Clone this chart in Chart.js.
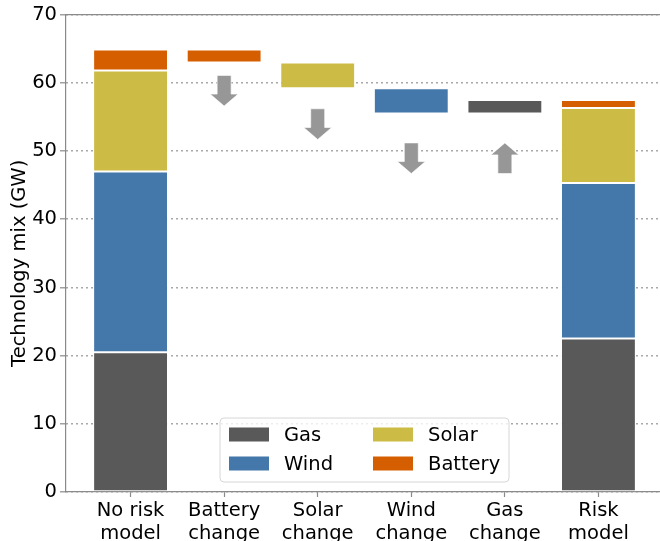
<!DOCTYPE html>
<html>
<head>
<meta charset="utf-8">
<script src="https://cdn.jsdelivr.net/npm/chart.js@4.4.0/dist/chart.umd.min.js"></script>
<style>
  html, body { margin: 0; padding: 0; background: #fff; overflow: hidden; }
  #wrap { width: 664px; height: 541px; }
</style>
</head>
<body>
<div id="wrap"><canvas id="mixChart"></canvas></div>
<script>
// values (GW)
const categories = [['No risk', 'model'], ['Battery', 'change'], ['Solar', 'change'], ['Wind', 'change'], ['Gas', 'change'], ['Risk', 'model']];
const technologies = ['Gas', 'Wind', 'Solar', 'Battery'];
const techColors = ['#595959', '#4477AA', '#CCBB44', '#D55E00'];
const noRiskMix = [20.5, 26.5, 14.8, 3.1];
const riskMix = [22.5, 22.8, 11.0, 1.2];
const changeTech = ['Battery', 'Solar', 'Wind', 'Gas'];
const changeValues = [-1.9, -3.8, -3.7, 2.0];
const arrowStart = [61.1, 56.2, 51.2, 46.7];
const arrowEnd = [56.6, 51.7, 46.7, 51.2];
const yTicks = [0, 10, 20, 30, 40, 50, 60, 70];

const textColor = '#000';
const spineColor = '#8a8a8a';
const font = { family: 'DejaVu Sans', size: 19.5 };

function stackRanges(mix, x) {
    let base = 0;
    return mix.map(v => {
        const r = { x: x, y: [base, base + v] };
        base += v;
        return r;
    });
}

const noRiskRanges = stackRanges(noRiskMix, 0);
const riskRanges = stackRanges(riskMix, categories.length - 1);
let level = noRiskMix.reduce((a, b) => a + b, 0);
const changeRanges = changeValues.map((v, i) => {
    const r = { x: i + 1, y: [Math.min(level, level + v), Math.max(level, level + v)] };
    level += v;
    return r;
});

const datasets = technologies.map((t, k) => {
    const data = [noRiskRanges[k]];
    changeTech.forEach((c, i) => { if (c === t) data.push(changeRanges[i]); });
    data.push(riskRanges[k]);
    return {
        label: t,
        data: data,
        backgroundColor: techColors[k],
        borderColor: 'rgba(255,255,255,0.9)',
        borderWidth: 1,
        borderSkipped: false,
        grouped: false,
        barPercentage: 0.8,
        categoryPercentage: 1.0
    };
});

const topSpine = {
    id: 'topSpine',
    afterDatasetsDraw(chart) {
        const { ctx, chartArea } = chart;
        ctx.save();
        ctx.strokeStyle = spineColor;
        ctx.lineWidth = 1.2;
        ctx.beginPath();
        ctx.moveTo(chartArea.left, chartArea.top);
        ctx.lineTo(chartArea.right, chartArea.top);
        ctx.stroke();
        ctx.restore();
    }
};

const arrows = {
    id: 'arrows',
    afterDraw(chart) {
        const { ctx } = chart;
        const xs = chart.scales.x, ys = chart.scales.y;
        ctx.save();
        ctx.fillStyle = '#979797';
        ctx.strokeStyle = 'rgba(255,255,255,0.8)';
        ctx.lineWidth = 0.8;
        arrowStart.forEach((s, i) => {
            const x = xs.getPixelForValue(i + 1);
            const y1 = ys.getPixelForValue(s);
            const y2 = ys.getPixelForValue(arrowEnd[i]);
            const dir = Math.sign(y2 - y1);
            const yh = y2 - dir * 12;
            ctx.beginPath();
            ctx.moveTo(x - 7, y1);
            ctx.lineTo(x + 7, y1);
            ctx.lineTo(x + 7, yh);
            ctx.lineTo(x + 14, yh);
            ctx.lineTo(x, y2);
            ctx.lineTo(x - 14, yh);
            ctx.lineTo(x - 7, yh);
            ctx.closePath();
            ctx.fill();
            ctx.stroke();
        });
        ctx.restore();
    }
};

const boxLegend = {
    id: 'boxLegend',
    afterDraw(chart) {
        const { ctx, chartArea } = chart;
        const w = 289, h = 64;
        const left = (chartArea.left + chartArea.right) / 2 - w / 2;
        const top = chartArea.bottom - 10 - h;
        ctx.save();
        ctx.beginPath();
        ctx.roundRect(left, top, w, h, 4);
        ctx.fillStyle = 'rgba(255,255,255,0.8)';
        ctx.fill();
        ctx.strokeStyle = '#d6d6d6';
        ctx.lineWidth = 1;
        ctx.stroke();
        ctx.font = font.size + 'px ' + font.family;
        ctx.textBaseline = 'middle';
        ctx.fillStyle = textColor;
        chart.data.datasets.forEach((ds, i) => {
            const col = Math.floor(i / 2), row = i % 2;
            const hx = left + 9 + col * 144;
            const cy = top + 16.5 + row * 29;
            ctx.fillStyle = ds.backgroundColor;
            ctx.fillRect(hx, cy - 7, 40, 14);
            ctx.fillStyle = textColor;
            ctx.fillText(ds.label, hx + 55, cy + 1);
        });
        ctx.restore();
    }
};

const yTitle = {
    id: 'yTitle',
    afterDraw(chart) {
        const { ctx, chartArea } = chart;
        ctx.save();
        ctx.translate(20, (chartArea.top + chartArea.bottom) / 2 + 10);
        ctx.rotate(-Math.PI / 2);
        ctx.font = font.size + 'px ' + font.family;
        ctx.fillStyle = textColor;
        ctx.textAlign = 'center';
        ctx.textBaseline = 'middle';
        ctx.fillText('Technology mix (GW)', 0, 0);
        ctx.restore();
    }
};

const ctx = document.getElementById('mixChart').getContext('2d');
const mixChart = new Chart(ctx, {
    type: 'bar',
    data: { datasets: datasets },
    options: {
        responsive: true,
        maintainAspectRatio: false,
        animation: false,
        layout: { padding: { top: 14, right: 1, left: 0, bottom: 0 } },
        plugins: {
            legend: { display: false },
            tooltip: { enabled: false }
        },
        scales: {
            x: {
                type: 'linear',
                min: -0.69,
                max: 5.69,
                offset: false,
                z: 1,
                afterBuildTicks: s => { s.ticks = categories.map((c, i) => ({ value: i })); },
                afterFit: s => { s.height = 49; },
                ticks: {
                    callback: v => categories[v],
                    font: font,
                    color: textColor,
                    padding: 2,
                    maxRotation: 0,
                    autoSkip: false
                },
                grid: { offset: false, drawOnChartArea: false, tickLength: 5, tickColor: spineColor, tickWidth: 1.2 },
                border: { color: spineColor, width: 1.2 }
            },
            y: {
                min: 0,
                max: 70,
                z: 1,
                afterBuildTicks: s => { s.ticks = yTicks.map(v => ({ value: v })); },
                afterFit: s => { s.width = 66; },
                ticks: { font: font, color: textColor, padding: 3 },
                grid: { color: 'rgba(128,128,128,0.85)', lineWidth: 1.6, tickLength: 6, tickColor: spineColor, tickWidth: 1.2 },
                border: { color: spineColor, width: 1.2, dash: [1.6, 3.4] }
            }
        }
    },
    plugins: [topSpine, arrows, boxLegend, yTitle]
});
</script>
</body>
</html>
